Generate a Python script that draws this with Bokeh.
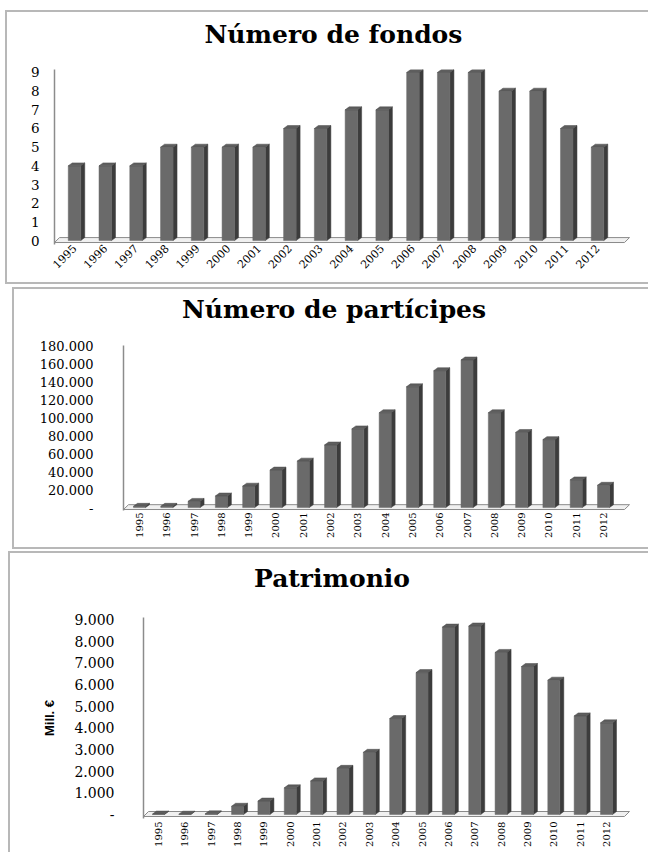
import math
from bokeh.plotting import figure
from bokeh.models import FixedTicker
from bokeh.embed import file_html
from bokeh.resources import INLINE

# ---------------- data ----------------
years = ["1995", "1996", "1997", "1998", "1999", "2000", "2001", "2002", "2003",
         "2004", "2005", "2006", "2007", "2008", "2009", "2010", "2011", "2012"]

fondos = [4, 4, 4, 5, 5, 5, 5, 6, 6, 7, 7, 9, 9, 9, 8, 8, 6, 5]
participes = [1500, 1500, 7000, 13000, 24000, 42000, 52000, 70000, 88000, 106000,
              135000, 153000, 165000, 106000, 84000, 76000, 31000, 25000]
patrimonio = [20, 15, 30, 380, 620, 1230, 1550, 2130, 2870, 4430,
              6550, 8650, 8700, 7480, 6830, 6200, 4550, 4230]

fondos_ticks = [0, 1, 2, 3, 4, 5, 6, 7, 8, 9]
fondos_tick_labels = ["0", "1", "2", "3", "4", "5", "6", "7", "8", "9"]
participes_ticks = [0, 20000, 40000, 60000, 80000, 100000, 120000, 140000, 160000, 180000]
participes_tick_labels = ["-", "20.000", "40.000", "60.000", "80.000", "100.000",
                          "120.000", "140.000", "160.000", "180.000"]
patrimonio_ticks = [0, 1000, 2000, 3000, 4000, 5000, 6000, 7000, 8000, 9000]
patrimonio_tick_labels = ["-", "1.000", "2.000", "3.000", "4.000", "5.000",
                          "6.000", "7.000", "8.000", "9.000"]

titles = ["Número de fondos", "Número de partícipes", "Patrimonio"]
y_axis_title = "Mill. €"

SERIF = "DejaVu Serif"
SANS = "Liberation Sans"
FRONT = "#6a6a6a"
SIDE = "#3c3c3c"
TOP = "#5e5e5e"
BC = "#b8b8b8"


def line_box(sel, left, top, height, sides):
    css = (":host::%s {content: ''; position: absolute; left: %dpx; top: %dpx; right: 0px; "
           "height: %dpx; box-sizing: border-box; pointer-events: none; z-index: 50;" % (sel, left, top, height))
    for s in sides:
        css += " border-%s: 2px solid %s;" % (s, BC)
    return css + "}"


def build(values, ticks, tick_labels, title, g, x_orient, ylabel=None):
    n = len(values)
    idx = list(range(n))
    ppx = (g["last_bar"] - g["first_bar"]) / (n - 1)
    ppu = (g["zero_y"] - g["top_y"]) / ticks[-1]
    x0 = (g["frame_left"] - g["first_bar"]) / ppx
    x1 = (g["frame_right"] - g["first_bar"]) / ppx
    y1 = ticks[-1] + (g["top_y"] - g["frame_top"]) / ppu
    y0 = -(g["frame_bottom"] - g["zero_y"]) / ppu

    p = figure(width=g["width"], height=g["height"], x_range=(x0, x1), y_range=(y0, y1),
               output_backend="svg", toolbar_location=None, tools="")
    p.min_border_left = g["frame_left"]
    p.min_border_right = g["width"] - g["frame_right"]
    p.min_border_top = g["frame_top"] - g["top"]
    p.min_border_bottom = g["top"] + g["height"] - g["frame_bottom"]
    p.outline_line_color = None
    p.xgrid.visible = False
    p.ygrid.visible = False
    p.background_fill_color = "white"
    p.border_fill_color = "white"

    # 3D geometry (pixels -> data units)
    w = g["bar_px"] / ppx
    dx = 4.0 / ppx
    dy = 3.0 / ppu

    # floor
    fr = (g["floor_right"] - g["first_bar"]) / ppx
    ff = -2.0 / ppu
    fb = 3.0 / ppu
    fdx = 5.0 / ppx
    p.patch([x0, fr, fr + fdx, x0 + fdx], [ff, ff, fb, fb],
            fill_color="#f0f0f0", line_color="#8a8a8a", line_width=1)

    # bars: side faces, front faces, top faces
    side_xs, side_ys, top_xs, top_ys = [], [], [], []
    for i, v in zip(idx, values):
        r = i + w / 2
        l = i - w / 2
        side_xs.append([r, r + dx, r + dx, r])
        side_ys.append([0, dy, v + dy, v])
        top_xs.append([l, r, r + dx, l + dx])
        top_ys.append([v, v, v + dy, v + dy])
    p.patches(side_xs, side_ys, fill_color=SIDE, line_color=SIDE, line_width=0.5)
    p.vbar(x=idx, top=values, width=w, bottom=0, fill_color=FRONT, line_color=FRONT, line_width=0.5)
    p.patches(top_xs, top_ys, fill_color=TOP, line_color="#4a4a4a", line_width=0.5)

    # axes
    p.xaxis.ticker = FixedTicker(ticks=idx)
    p.xaxis.major_label_overrides = {i: y for i, y in zip(idx, years)}
    p.xaxis.axis_line_color = None
    p.xaxis.major_tick_line_color = None
    p.xaxis.minor_tick_line_color = None
    p.xaxis.major_tick_out = 0
    p.xaxis.major_label_orientation = x_orient
    p.xaxis.major_label_text_font = SERIF
    p.xaxis.major_label_text_font_size = g["xfont"]
    p.xaxis.major_label_text_color = "black"
    p.xaxis.major_label_standoff = g["xstand"]

    p.yaxis.ticker = FixedTicker(ticks=ticks)
    p.yaxis.major_label_overrides = {t: s for t, s in zip(ticks, tick_labels)}
    p.yaxis.axis_line_color = "#8c8c8c"
    p.yaxis.axis_line_width = 1.5
    p.yaxis.major_tick_line_color = None
    p.yaxis.minor_tick_line_color = None
    p.yaxis.major_tick_out = 0
    p.yaxis.major_label_text_font = SERIF
    p.yaxis.major_label_text_font_size = g["yfont"]
    p.yaxis.major_label_text_color = "black"
    p.yaxis.major_label_standoff = g["ystand"]
    if ylabel:
        p.yaxis.axis_label = ylabel
        p.yaxis.axis_label_text_font = SANS
        p.yaxis.axis_label_text_font_style = "bold"
        p.yaxis.axis_label_text_font_size = "13px"
        p.yaxis.axis_label_text_color = "black"
        p.yaxis.axis_label_standoff = 14

    # title
    p.title.text = title
    p.title.text_font = SERIF
    p.title.text_font_style = "bold"
    p.title.text_font_size = "25px"
    p.title.text_color = "black"
    p.title.align = "left"
    p.title.vertical_align = "top"
    p.title.offset = g["title_x"] - g["title_w"] / 2 - g["frame_left"]
    p.title.standoff = g["title_stand"]

    # panel borders drawn as overlay lines
    p.styles = {"position": "relative"}
    p.stylesheets = [line_box(*b) for b in g["boxes"]]
    return p


g1 = dict(top=0, width=648, height=274, frame_left=54, frame_right=640,
          frame_top=67, frame_bottom=244, zero_y=240, top_y=70, first_bar=74, last_bar=597,
          floor_right=624, bar_px=12.5, xfont="11px", xstand=2, yfont="13.5px", ystand=15,
          title_x=333, title_w=258, title_stand=38,
          boxes=[("after", 5, 10, 264, ["left", "top"])])
g2 = dict(top=274, width=648, height=266, frame_left=123, frame_right=640,
          frame_top=343, frame_bottom=513, zero_y=510, top_y=344, first_bar=139, last_bar=603,
          floor_right=624, bar_px=12, xfont="10px", xstand=2, yfont="13px", ystand=30,
          title_x=333, title_w=303, title_stand=40,
          boxes=[("before", 5, 0, 10, ["left", "bottom"]),
                 ("after", 12, 13, 253, ["left", "top"])])
g3 = dict(top=540, width=648, height=312, frame_left=143, frame_right=640,
          frame_top=617, frame_bottom=818, zero_y=814, top_y=619, first_bar=158, last_bar=606,
          floor_right=624, bar_px=12, xfont="10px", xstand=3, yfont="14px", ystand=29,
          title_x=333, title_w=159, title_stand=46,
          boxes=[("before", 12, 0, 9, ["left", "bottom"]),
                 ("after", 8, 11, 301, ["left", "top"])])

p1 = build(fondos, fondos_ticks, fondos_tick_labels, titles[0], g1, math.pi / 4)
p2 = build(participes, participes_ticks, participes_tick_labels, titles[1], g2, math.pi / 2)
p3 = build(patrimonio, patrimonio_ticks, patrimonio_tick_labels, titles[2], g3, math.pi / 2,
           ylabel=y_axis_title)

p = [p1, p2, p3]

with open("out.html", "w") as f:
    f.write(file_html(p, INLINE))
